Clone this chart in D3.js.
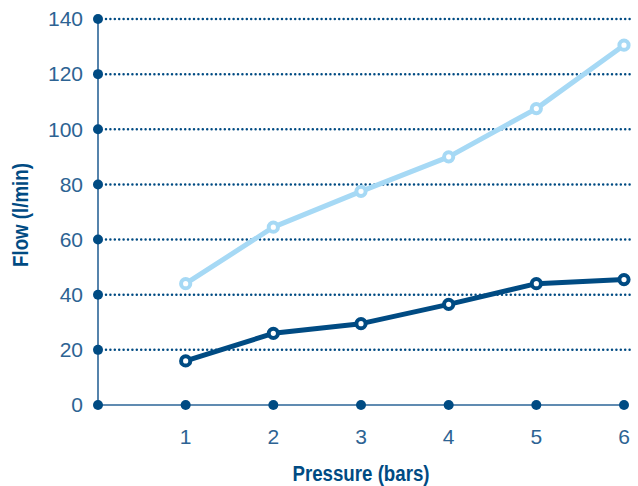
<!DOCTYPE html>
<html>
<head>
<meta charset="utf-8">
<script src="https://cdn.jsdelivr.net/npm/d3@7/dist/d3.min.js"></script>
<style>
  html, body { margin: 0; padding: 0; background: #fff; }
  svg { display: block; font-family: "Liberation Sans", Arial, sans-serif; }
</style>
</head>
<body>
<svg id="chart" width="638" height="486"></svg>
<script>
// Flow against pressure for two models
const pressures = [1, 2, 3, 4, 5, 6];
const flowLow = [16, 26, 29.5, 36.5, 44, 45.5];
const flowHigh = [44, 64.5, 77.5, 90, 107.5, 130.5];
const yTicks = [0, 20, 40, 60, 80, 100, 120, 140];
const xTicks = [1, 2, 3, 4, 5, 6];

const dark = "#004b83";
const light = "#a6d9f5";
const axisText = "#2d6393";

const svg = d3.select("#chart");
const x = d3.scaleLinear().domain([0, 6]).range([98, 624]);
const y = d3.scaleLinear().domain([0, 140]).range([405, 19]);

// dotted gridlines
svg.append("g").selectAll("line")
  .data(yTicks.filter(d => d > 0))
  .join("line")
  .attr("x1", x(0) + 8).attr("x2", 632)
  .attr("y1", d => y(d)).attr("y2", d => y(d))
  .attr("stroke", dark).attr("stroke-width", 2.5)
  .attr("stroke-linecap", "round").attr("stroke-dasharray", "0,4.4");

// axes lines
svg.append("line").attr("x1", x(0)).attr("x2", x(0))
  .attr("y1", y(140)).attr("y2", y(0))
  .attr("stroke", "#2b6497").attr("stroke-width", 1.6);
svg.append("line").attr("x1", x(0)).attr("x2", x(6))
  .attr("y1", y(0)).attr("y2", y(0))
  .attr("stroke", "#2b6497").attr("stroke-width", 1.6);

// tick dots
svg.append("g").selectAll("circle").data(yTicks).join("circle")
  .attr("cx", x(0)).attr("cy", d => y(d)).attr("r", 5).attr("fill", dark);
svg.append("g").selectAll("circle").data(xTicks).join("circle")
  .attr("cx", d => x(d)).attr("cy", y(0)).attr("r", 5).attr("fill", dark);

// tick labels
svg.append("g").selectAll("text").data(yTicks).join("text")
  .attr("x", 83).attr("y", d => y(d)).attr("dy", "0.35em")
  .attr("text-anchor", "end").attr("font-size", 21).attr("fill", axisText)
  .text(d => d);
svg.append("g").selectAll("text").data(xTicks).join("text")
  .attr("x", d => x(d)).attr("y", 444)
  .attr("text-anchor", "middle").attr("font-size", 21).attr("fill", axisText)
  .text(d => d);

// axis titles, horizontally compressed for a condensed look
svg.append("text").attr("transform", "translate(361,481) scale(0.85,1)")
  .attr("text-anchor", "middle").attr("font-size", 22).attr("font-weight", "bold")
  .attr("fill", dark).text("Pressure (bars)");
svg.append("text").attr("transform", "translate(28,215) rotate(-90) scale(0.85,1)")
  .attr("text-anchor", "middle").attr("font-size", 22).attr("font-weight", "bold")
  .attr("fill", dark).text("Flow (l/min)");

// series
const line = d3.line().x((d, i) => x(pressures[i])).y(d => y(d));
function drawSeries(vals, color) {
  svg.append("path").datum(vals).attr("d", line)
    .attr("fill", "none").attr("stroke", color).attr("stroke-width", 5)
    .attr("stroke-linejoin", "round");
  svg.append("g").selectAll("circle").data(vals).join("circle")
    .attr("cx", (d, i) => x(pressures[i])).attr("cy", d => y(d))
    .attr("r", 4.6).attr("fill", "#fff").attr("stroke", color).attr("stroke-width", 4);
}
drawSeries(flowHigh, light);
drawSeries(flowLow, dark);
</script>
</body>
</html>
